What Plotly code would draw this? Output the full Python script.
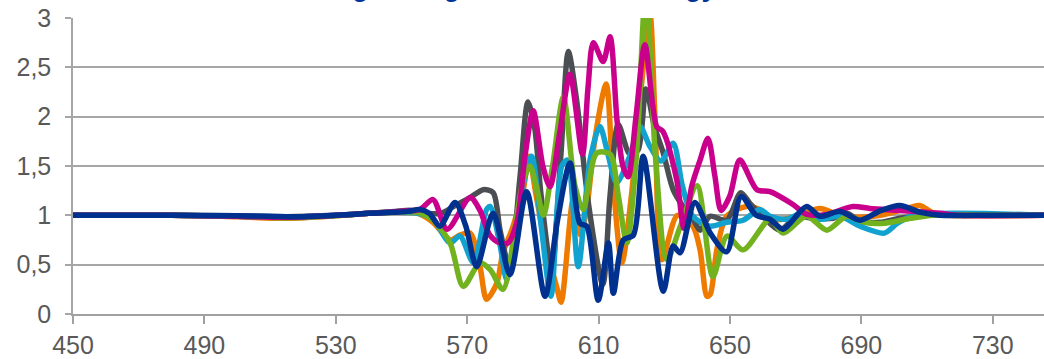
import plotly.graph_objects as go

# ---- data (wavelength in nm, relative value) ----
orange_x = [450, 480, 500, 515, 530, 540, 548, 555, 559.6, 564.8, 567.8, 570.9, 573.9, 575.9, 579, 580.9, 584, 587.1, 588.8, 591, 594.2, 597.2, 598.6, 602.3, 604.5, 606.5, 609, 612.3, 614.5, 617.1, 620, 623, 625.6, 627.2, 629.3, 634, 638.7, 640.9, 643, 644, 646, 649, 655, 659, 662, 668, 671, 677.4, 683.5, 689.6, 695.7, 704.8, 707.8, 712, 716, 746]
orange_y = [1.0, 1.0, 0.985, 0.97, 0.995, 1.02, 1.03, 1.02, 0.93, 0.75, 0.8, 0.82, 0.48, 0.15, 0.31, 0.62, 0.89, 1.26, 1.6, 1.2, 0.65, 0.28, 0.12, 1.16, 0.8, 1.1, 1.8, 2.33, 1.3, 0.52, 1.2, 2.3, 3.05, 1.97, 0.55, 1.0, 0.89, 0.65, 0.18, 0.2, 0.65, 0.99, 1.09, 1.06, 0.96, 0.97, 1.0, 1.07, 1.0, 0.98, 1.0, 1.08, 1.1, 1.02, 1.0, 1.0]

gray_x = [450, 480, 500, 515, 530, 540, 548, 553, 558, 562, 566.3, 570.9, 574.9, 577.9, 580, 583, 586, 588.5, 590.5, 592.5, 595.7, 598.5, 600.8, 603.3, 607, 611.3, 613.5, 616, 619.5, 622, 624.4, 627, 629.7, 632.7, 635.5, 638.8, 640.9, 643.9, 649, 653.3, 656.1, 660, 665.2, 670.3, 675.3, 681.4, 685.6, 689.6, 695.7, 701.7, 710, 746]
gray_y = [1.0, 1.0, 0.995, 0.985, 1.0, 1.02, 1.04, 1.05, 1.02, 1.02, 1.1, 1.18, 1.26, 1.23, 0.85, 0.46, 1.36, 2.15, 1.9, 1.2, 0.45, 1.6, 2.66, 2.17, 1.1, 0.3, 1.2, 1.92, 1.62, 1.66, 2.28, 1.9, 1.63, 1.26, 1.1, 0.96, 0.85, 0.99, 0.95, 1.23, 1.12, 0.99, 0.85, 0.99, 0.97, 0.97, 1.02, 0.94, 0.93, 0.97, 1.0, 1.0]

cyan_x = [450, 480, 500, 515, 530, 540, 548, 555, 559.6, 564.8, 567.8, 571.9, 575.9, 577, 580, 582, 583.9, 587, 589.6, 592.5, 595.5, 598.8, 600.5, 603.8, 607.4, 610.4, 613, 615.5, 619.5, 622.6, 625.6, 629, 632.7, 635.5, 638.7, 643.9, 649, 654, 659.1, 662.2, 667, 672, 677.4, 683.5, 689.6, 697, 701, 706, 746]
cyan_y = [1.0, 1.0, 0.99, 0.98, 1.0, 1.02, 1.03, 1.02, 0.96, 0.72, 0.79, 0.52, 1.06, 1.09, 0.7, 0.35, 0.69, 1.3, 1.6, 0.9, 0.18, 1.5, 1.56, 0.48, 1.56, 1.9, 1.6, 1.33, 1.6, 1.9, 1.7, 1.55, 1.73, 1.3, 0.99, 0.89, 0.93, 0.95, 1.06, 0.99, 0.96, 1.02, 0.96, 0.99, 0.89, 0.82, 0.92, 1.0, 1.0]

green_x = [450, 480, 500, 515, 530, 540, 548, 555, 559.6, 564.8, 568.8, 573.9, 577, 580.9, 585.1, 587.1, 589.1, 591, 593.2, 596, 599.3, 602.8, 605.3, 609.4, 613.5, 616, 618.6, 621.5, 624.4, 627.3, 630.8, 635, 640, 644.8, 649.1, 654, 662.2, 666.2, 673.3, 679.5, 685.5, 691, 697, 705, 712, 746]
green_y = [1.0, 1.0, 0.99, 0.975, 0.995, 1.02, 1.03, 1.03, 0.95, 0.72, 0.28, 0.52, 0.45, 0.25, 0.99, 1.36, 1.5, 1.3, 1.0, 1.5, 2.2, 1.3, 1.06, 1.63, 1.62, 1.2, 0.72, 1.6, 3.3, 1.6, 0.55, 0.9, 1.3, 0.38, 0.79, 0.65, 0.96, 0.82, 0.99, 0.85, 0.99, 0.93, 0.92, 0.97, 1.0, 1.0]

magenta_x = [450, 480, 500, 515, 530, 540, 549.5, 555.6, 559.6, 563.9, 570.9, 573.9, 576.9, 580, 582.4, 585.2, 587.6, 590.1, 593.1, 595.2, 598.2, 601.3, 605.1, 606.8, 608.4, 611.4, 613.5, 615.6, 617.4, 619, 621.4, 624.1, 627.7, 629.6, 633.8, 636, 638.4, 640.9, 643.3, 645.4, 647.3, 650, 653, 658.2, 662.2, 669.2, 673.4, 679.5, 687.4, 692.6, 701.7, 713.9, 720, 746]
magenta_y = [1.0, 1.0, 0.99, 0.98, 1.0, 1.02, 1.04, 1.06, 1.16, 0.86, 1.18, 1.05, 0.8, 0.72, 0.72, 0.94, 1.6, 2.06, 1.49, 1.29, 1.84, 2.43, 1.62, 2.3, 2.75, 2.56, 2.81, 1.97, 1.5, 1.39, 2.0, 2.73, 1.9, 1.85, 1.36, 0.87, 1.3, 1.56, 1.78, 1.4, 1.05, 1.2, 1.56, 1.26, 1.24, 1.11, 1.01, 1.01, 1.09, 1.07, 1.05, 1.02, 1.0, 1.0]

navy_x = [450, 480, 500, 510, 520, 530, 540, 547, 552, 555.6, 558.5, 561.7, 566.3, 569.5, 572.9, 577.9, 583.0, 588.1, 593.7, 597.5, 601.3, 604.3, 606.4, 609.9, 613.0, 614.5, 617.5, 620.6, 623.6, 629.7, 632.7, 634.8, 639.3, 644, 649, 653.4, 658, 662.2, 666.2, 673.3, 677.4, 683.5, 689.6, 696, 701.7, 708, 714, 725, 746]
navy_y = [1.0, 1.0, 0.995, 0.99, 0.985, 1.0, 1.02, 1.03, 1.04, 1.06, 1.02, 0.89, 1.13, 0.9, 0.48, 1.02, 0.40, 1.24, 0.18, 0.95, 1.53, 0.92, 0.89, 0.14, 0.72, 0.21, 0.75, 0.8, 1.6, 0.23, 0.69, 0.62, 1.13, 0.82, 0.63, 1.19, 1.0, 0.96, 0.86, 1.09, 0.99, 1.04, 0.95, 1.05, 1.1, 1.03, 1.0, 1.0, 1.0]

x_ticks = [450, 490, 530, 570, 610, 650, 690, 730]
title_text = "Light range of the total energy"

series = [
    ("Serie 1", orange_x, orange_y, "#EE7A00"),
    ("Serie 2", gray_x, gray_y, "#4B4F54"),
    ("Serie 3", cyan_x, cyan_y, "#12A2CF"),
    ("Serie 4", green_x, green_y, "#72B21E"),
    ("Serie 5", magenta_x, magenta_y, "#C8008C"),
    ("Serie 6", navy_x, navy_y, "#00318E"),
]

fig = go.Figure()
for name, xs, ys, col in series:
    fig.add_trace(go.Scatter(x=xs, y=ys, mode="lines", name=name,
                             line=dict(color=col, width=5.5, shape="spline", smoothing=0.8)))

font_fam = "Liberation Sans, Arial, sans-serif"
fig.update_layout(
    width=1044, height=359,
    margin=dict(l=73, r=0, t=18, b=45),
    paper_bgcolor="white", plot_bgcolor="white",
    showlegend=False,
    separators=",.",
    font=dict(family=font_fam, size=25, color="#595959"),
    xaxis=dict(range=[450, 745.6], tickvals=x_ticks, showgrid=False, zeroline=False,
               showline=True, linecolor="#A0A0A0", linewidth=2,
               ticks="outside", ticklen=8, tickwidth=1.5, tickcolor="#A0A0A0",
               tickfont=dict(size=25, color="#595959")),
    yaxis=dict(range=[0, 3], dtick=0.5, showgrid=True, gridcolor="#A6A6A6", gridwidth=1.5,
               zeroline=False, showline=True, linecolor="#A6A6A6", linewidth=1.5,
               ticks="outside", ticklen=6, tickwidth=1.5, tickcolor="#A6A6A6",
               ticklabelstandoff=9,
               tickfont=dict(size=25, color="#595959")),
    annotations=[dict(text="<b>" + title_text + "</b>", xref="paper", yref="paper",
                      x=0.4634, y=1.106, xanchor="center", yanchor="middle", showarrow=False,
                      font=dict(family=font_fam, size=27, color="#003399"))],
)

fig.write_html("out.html", config={"displayModeBar": False},
               post_script="document.body.style.margin='0';document.body.style.overflow='hidden';")
